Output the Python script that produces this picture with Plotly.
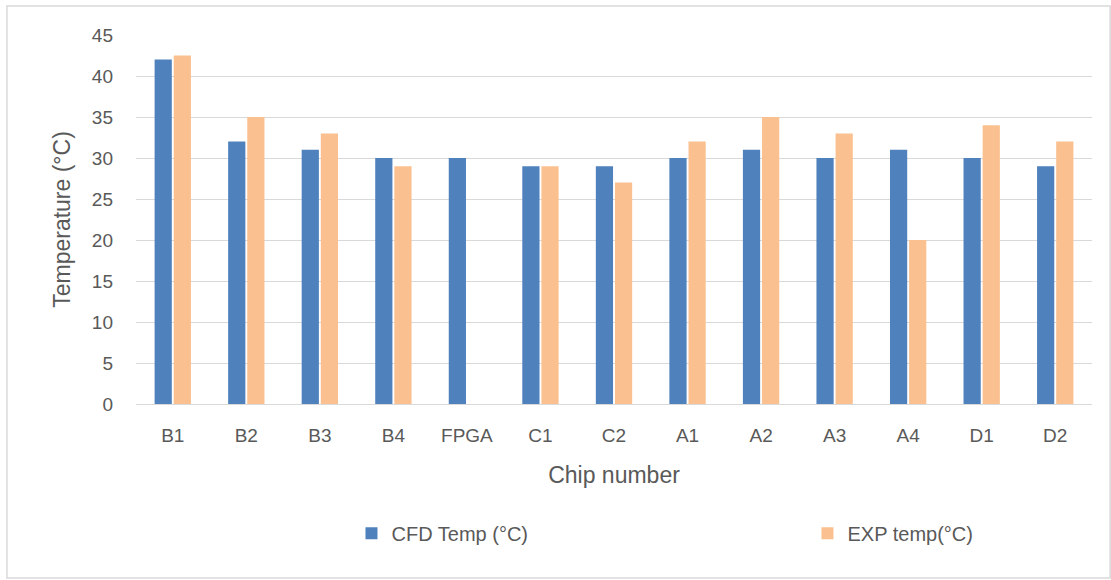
import plotly.graph_objects as go

categories = ["B1", "B2", "B3", "B4", "FPGA", "C1", "C2", "A1", "A2", "A3", "A4", "D1", "D2"]
cfd_temp = [42, 32, 31, 30, 30, 29, 29, 30, 31, 30, 31, 30, 29]
exp_temp = [42.5, 35, 33, 29, None, 29, 27, 32, 35, 33, 20, 34, 32]
y_ticks = [0, 5, 10, 15, 20, 25, 30, 35, 40, 45]

FONT = "Liberation Sans, Arial, sans-serif"
TXT = "#595959"

fig = go.Figure()
fig.add_trace(go.Bar(x=categories, y=cfd_temp, name="CFD Temp (°C)", legendwidth=411,
                     marker=dict(color="#4F81BD", line=dict(width=0))))
fig.add_trace(go.Bar(x=categories, y=exp_temp, name="EXP temp(°C)", legendwidth=160,
                     marker=dict(color="#FAC08F", line=dict(width=0))))

fig.update_layout(
    width=1111, height=580,
    margin=dict(l=136, r=19, t=35, b=176),
    paper_bgcolor="white", plot_bgcolor="white",
    barmode="group", bargap=0.48, bargroupgap=0.1,
    font=dict(family=FONT, color=TXT, size=19),
    showlegend=True,
    legend=dict(orientation="h", x=0.2254, xanchor="left", y=-0.35, yanchor="middle",
                font=dict(size=20, color=TXT), itemwidth=30),
    xaxis=dict(title=dict(text="Chip number", font=dict(size=23, color=TXT), standoff=21),
               showgrid=False, showline=False, ticks="", ticklabelstandoff=18,
               tickfont=dict(size=19, color=TXT)),
    yaxis=dict(title=dict(text="Temperature (°C)", font=dict(size=23, color=TXT), standoff=14),
               range=[0, 45], tickvals=y_ticks, showgrid=True, gridcolor="#D9D9D9", gridwidth=1.3,
               zeroline=True, zerolinecolor="#D9D9D9", zerolinewidth=1.3,
               showline=False, ticks="", ticklabelstandoff=22,
               tickfont=dict(size=19, color=TXT)),
    shapes=[dict(type="rect", xref="paper", yref="paper",
                 x0=-0.135, x1=1.019, y0=-0.4715, y1=1.0786,
                 line=dict(color="#D9D9D9", width=1.5), fillcolor="rgba(0,0,0,0)", layer="below")],
)

fig.write_html("out.html")
